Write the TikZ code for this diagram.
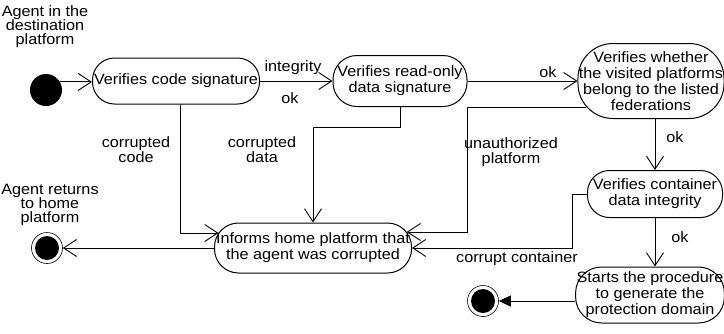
\documentclass[tikz,border=0pt]{standalone}
\usepackage{fontspec}
\setmainfont{Liberation Sans}[FakeStretch=1.08]
\usetikzlibrary{arrows.meta,calc}
\begin{document}
\begin{tikzpicture}[x=1pt,y=-1pt,
  font=\fontsize{15}{16}\selectfont,
  activity/.style={draw, line width=1pt, rounded corners=22pt, align=center, inner sep=1pt},
  initial/.style={circle, fill=black, minimum size=32pt, inner sep=0pt},
  final/.style={circle, draw, line width=0.6pt, minimum size=31pt, inner sep=0pt},
  lbl/.style={align=center, inner sep=0pt, font=\fontsize{15}{15}\selectfont},
  flow/.style={line width=0.9pt, -{Straight Barb[length=13pt,width=17pt,line width=0.9pt]}},
  endflow/.style={line width=0.9pt, -{Triangle[length=12pt,width=11pt]}}]
\useasboundingbox (0,0) rectangle (724,333);

% activities
\node[activity, minimum width=167pt, minimum height=46pt] (code) at (176,81) {Verifies code signature};
\node[activity, rounded corners=24pt, minimum width=134pt, minimum height=51pt] (rodata) at (400,81) {Verifies read-only\\data signature};
\node[activity, rounded corners=35pt, minimum width=143pt, minimum height=75pt] (fed) at (651,81) {Verifies whether\\the visited platforms\\belong to the listed\\federations};
\node[activity, minimum width=135pt, minimum height=47pt] (cont) at (655,194) {Verifies container\\data integrity};
\node[activity, rounded corners=26pt, minimum width=145pt, minimum height=56pt] (proc) at (650,295) {Starts the procedure\\to generate the\\protection domain};
\node[activity, rounded corners=24pt, minimum width=197pt, minimum height=50pt] (inform) at (313,248) {Informs home platform that\\the agent was corrupted};

% initial and final states
\node[initial] (start) at (46,90) {};
\node[lbl, font=\fontsize{15}{14}\selectfont] (startlbl) at (45,27) {Agent in the\\destination\\platform};
\node[final] (home) at (47,248) {};
\fill (home) circle (12pt);
\node[lbl, font=\fontsize{15}{14}\selectfont] (homelbl) at (50,205) {Agent returns\\to home\\platform};
\node[final] (done) at (483,301) {};
\fill (done) circle (12pt);

% routing points
\coordinate (cc) at (180,233);
\coordinate (dd) at (400,127);
\coordinate (ua) at (467,107);
\coordinate (ub) at (467,232);
\coordinate (ka) at (572,194);
\coordinate (kb) at (572,248);

% transitions
\draw[flow] (start.30) -- (start.30 -| code.west);
\draw[flow] (code) -- (rodata);
\draw[flow] (rodata) -- (fed);
\draw[flow] (code.south -| cc) -- (cc) -- ([xshift=4.5pt]inform.west |- cc);
\draw[flow] (rodata.south) -- (dd) -- (dd -| inform.north) -- (inform.north);
\draw[flow] ([xshift=9pt]fed.west |- ua) -- (ua) -- (ub) -- ([xshift=-5.3pt]inform.east |- ub);
\draw[flow] (fed.south -| cont.north) -- (cont.north);
\draw[flow] (cont.west) -- (ka) -- (kb) -- (inform.east);
\draw[flow] (cont.south) -- (cont.south |- proc.north);
\draw[flow] (inform) -- (home);
\draw[endflow] (proc.west |- done) -- (done);

% guard labels
\node[lbl] (lint) at (293,68) {integrity};
\node[lbl] (lok1) at (290,98) {ok};
\node[lbl] (lok2) at (548,72) {ok};
\node[lbl] (lcode) at (136,150) {corrupted\\code};
\node[lbl] (ldata) at (262,150) {corrupted\\data};
\node[lbl] (lunauth) at (511,152) {unauthorized\\platform};
\node[lbl] (lok3) at (675,137) {ok};
\node[lbl] (lcont) at (517,259) {corrupt container};
\node[lbl] (lok4) at (680,237) {ok};
\end{tikzpicture}
\end{document}
